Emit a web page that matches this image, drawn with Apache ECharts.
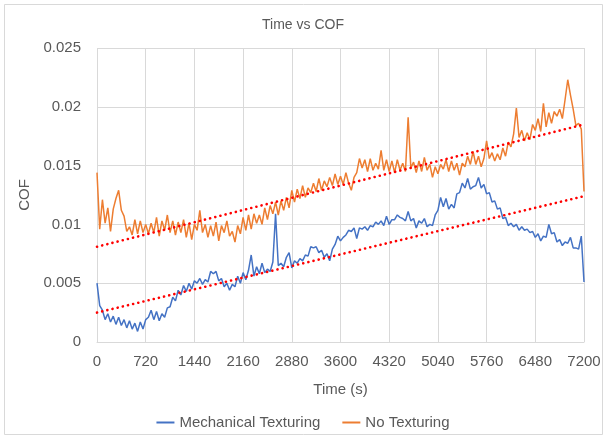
<!DOCTYPE html>
<html>
<head>
<meta charset="utf-8">
<script src="https://cdn.jsdelivr.net/npm/echarts@6/dist/echarts.min.js"></script>
<style>
  html, body { margin: 0; padding: 0; background: #fff; }
  #chart { width: 606px; height: 438px; }
</style>
</head>
<body>
<div id="chart"></div>
<script>
// readings taken every 40 s, 0 .. 7200 s
const sampleStep = 40;
const xTicks = [0, 720, 1440, 2160, 2880, 3600, 4320, 5040, 5760, 6480, 7200];
const yTicks = [0, 0.005, 0.01, 0.015, 0.02, 0.025];

// Mechanical Texturing
const mechCOF = [
  0.0050, 0.0031, 0.0027, 0.0019, 0.0024, 0.0017, 0.0022, 0.0015, 0.0021, 0.0014,
  0.0019, 0.0012, 0.0018, 0.0011, 0.0016, 0.0009, 0.0017, 0.0011, 0.0019, 0.0021,
  0.0027, 0.0019, 0.0026, 0.0018, 0.0024, 0.0021, 0.0029, 0.0030, 0.0038, 0.0035,
  0.0044, 0.0040, 0.0048, 0.0043, 0.0050, 0.0045, 0.0052, 0.0050, 0.0054, 0.0049,
  0.0053, 0.0051, 0.0060, 0.0058, 0.0060, 0.0052, 0.0054, 0.0047, 0.0050, 0.0044,
  0.0049, 0.0047, 0.0056, 0.0050, 0.0059, 0.0053, 0.0061, 0.0074, 0.0056, 0.0064,
  0.0058, 0.0067, 0.0059, 0.0062, 0.0060, 0.0068, 0.0109, 0.0065, 0.0067, 0.0064,
  0.0072, 0.0076, 0.0063, 0.0069, 0.0067, 0.0071, 0.0069, 0.0074, 0.0073, 0.0081,
  0.0080, 0.0081, 0.0076, 0.0078, 0.0072, 0.0075, 0.0069, 0.0079, 0.0083, 0.0090,
  0.0086, 0.0089, 0.0091, 0.0095, 0.0094, 0.0097, 0.0088, 0.0097, 0.0096, 0.0098,
  0.0095, 0.0099, 0.0098, 0.0102, 0.0100, 0.0103, 0.0099, 0.0107, 0.0100, 0.0104,
  0.0104, 0.0108, 0.0106, 0.0105, 0.0103, 0.0111, 0.0103, 0.0105, 0.0097, 0.0103,
  0.0101, 0.0105, 0.0098, 0.0100, 0.0099, 0.0108, 0.0112, 0.0123, 0.0115, 0.0122,
  0.0113, 0.0117, 0.0114, 0.0126, 0.0127, 0.0135, 0.0131, 0.0139, 0.0130, 0.0132,
  0.0133, 0.0140, 0.0131, 0.0134, 0.0126, 0.0127, 0.0119, 0.0120, 0.0113, 0.0114,
  0.0105, 0.0106, 0.0099, 0.0101, 0.0098, 0.0100, 0.0095, 0.0098, 0.0095, 0.0096,
  0.0093, 0.0094, 0.0089, 0.0092, 0.0086, 0.0090, 0.0089, 0.0100, 0.0092, 0.0093,
  0.0085, 0.0087, 0.0082, 0.0085, 0.0084, 0.0089, 0.0080, 0.0080, 0.0079, 0.0090,
  0.0051
];

// No Texturing
const plainCOF = [
  0.0144, 0.0096, 0.0121, 0.0101, 0.0114, 0.0094, 0.0113, 0.0122, 0.0129, 0.0112,
  0.0107, 0.0094, 0.0098, 0.0091, 0.0104, 0.0092, 0.0103, 0.0093, 0.0100, 0.0092,
  0.0101, 0.0093, 0.0106, 0.0090, 0.0103, 0.0095, 0.0108, 0.0093, 0.0103, 0.0091,
  0.0102, 0.0093, 0.0104, 0.0089, 0.0101, 0.0087, 0.0100, 0.0095, 0.0112, 0.0093,
  0.0100, 0.0089, 0.0099, 0.0090, 0.0102, 0.0086, 0.0099, 0.0093, 0.0103, 0.0090,
  0.0094, 0.0085, 0.0099, 0.0092, 0.0106, 0.0095, 0.0108, 0.0096, 0.0109, 0.0101,
  0.0108, 0.0100, 0.0114, 0.0104, 0.0116, 0.0109, 0.0119, 0.0108, 0.0120, 0.0112,
  0.0123, 0.0114, 0.0129, 0.0119, 0.0130, 0.0122, 0.0133, 0.0123, 0.0131, 0.0127,
  0.0135, 0.0128, 0.0139, 0.0129, 0.0137, 0.0132, 0.0140, 0.0133, 0.0143, 0.0134,
  0.0141, 0.0134, 0.0144, 0.0135, 0.0129, 0.0140, 0.0144, 0.0156, 0.0148, 0.0155,
  0.0145, 0.0156, 0.0146, 0.0152, 0.0147, 0.0163, 0.0146, 0.0155, 0.0145, 0.0154,
  0.0144, 0.0155, 0.0146, 0.0152, 0.0145, 0.0191, 0.0148, 0.0153, 0.0144, 0.0154,
  0.0145, 0.0157, 0.0146, 0.0151, 0.0140, 0.0149, 0.0143, 0.0151, 0.0147, 0.0155,
  0.0145, 0.0154, 0.0146, 0.0152, 0.0142, 0.0152, 0.0149, 0.0158, 0.0151, 0.0162,
  0.0151, 0.0158, 0.0149, 0.0156, 0.0171, 0.0156, 0.0161, 0.0154, 0.0160, 0.0155,
  0.0165, 0.0158, 0.0170, 0.0166, 0.0177, 0.0199, 0.0174, 0.0180, 0.0171, 0.0178,
  0.0172, 0.0185, 0.0180, 0.0190, 0.0179, 0.0203, 0.0183, 0.0195, 0.0186, 0.0196,
  0.0192, 0.0198, 0.0190, 0.0206, 0.0223, 0.0210, 0.0198, 0.0184, 0.0186, 0.0181,
  0.0128
];

// linear trendlines, value at 0 s and at 7200 s
const mechTrend = [0.0025, 0.0124];
const plainTrend = [0.0081, 0.0185];

const seriesNames = ['Mechanical Texturing', 'No Texturing'];
const textColor = '#595959';
const gridColor = '#D9D9D9';
const fontFamily = '"Liberation Sans", Arial, sans-serif';

const toPairs = (vals) => vals.map((v, i) => [i * sampleStep, v]);
const trendPairs = (ends) => [[xTicks[0], ends[0]], [xTicks[xTicks.length - 1], ends[1]]];

const chart = echarts.init(document.getElementById('chart'));

const trendStyle = {
  color: '#FF0000',
  width: 2.6,
  type: [0.1, 5.2],
  cap: 'round'
};

chart.setOption({
  backgroundColor: '#fff',
  animation: false,
  textStyle: { fontFamily: fontFamily },
  title: {
    text: 'Time vs COF',
    left: 'center',
    top: 13,
    textStyle: { color: textColor, fontSize: 14, fontWeight: 'normal', fontFamily: fontFamily }
  },
  graphic: [{
    type: 'rect',
    shape: { x: 4.5, y: 4.5, width: 598, height: 430 },
    style: { fill: 'none', stroke: gridColor, lineWidth: 1 },
    silent: true
  }],
  legend: {
    data: seriesNames,
    bottom: 3,
    left: 'center',
    icon: 'rect',
    itemWidth: 18,
    itemHeight: 2,
    itemGap: 22,
    textStyle: { color: textColor, fontSize: 15, fontFamily: fontFamily }
  },
  grid: { left: 97, right: 22, top: 48, bottom: 96 },
  xAxis: {
    type: 'value',
    min: xTicks[0],
    max: xTicks[xTicks.length - 1],
    interval: xTicks[1] - xTicks[0],
    name: 'Time (s)',
    nameLocation: 'middle',
    nameGap: 40,
    nameTextStyle: { color: textColor, fontSize: 15, fontFamily: fontFamily },
    axisLine: { lineStyle: { color: gridColor } },
    axisTick: { show: false },
    axisLabel: {
      color: textColor, fontSize: 15, margin: 12, fontFamily: fontFamily,
      formatter: (v) => String(v)
    },
    splitLine: { show: true, lineStyle: { color: gridColor } }
  },
  yAxis: {
    type: 'value',
    min: yTicks[0],
    max: yTicks[yTicks.length - 1],
    interval: yTicks[1] - yTicks[0],
    name: 'COF',
    nameLocation: 'middle',
    nameGap: 58,
    nameRotate: 90,
    nameTextStyle: { color: textColor, fontSize: 15, fontFamily: fontFamily },
    axisLine: { show: false },
    axisTick: { show: false },
    axisLabel: {
      color: textColor, fontSize: 15, margin: 16, fontFamily: fontFamily,
      formatter: (v) => String(parseFloat(v.toFixed(3)))
    },
    splitLine: { show: true, lineStyle: { color: gridColor } }
  },
  series: [
    {
      name: seriesNames[0],
      type: 'line',
      data: toPairs(mechCOF),
      showSymbol: false,
      color: '#4472C4',
      lineStyle: { width: 1.5 },
      z: 2
    },
    {
      name: seriesNames[1],
      type: 'line',
      data: toPairs(plainCOF),
      showSymbol: false,
      color: '#ED7D31',
      lineStyle: { width: 1.5 },
      z: 2
    },
    {
      name: 'trend-mech',
      type: 'line',
      data: trendPairs(mechTrend),
      showSymbol: false,
      lineStyle: trendStyle,
      z: 3
    },
    {
      name: 'trend-plain',
      type: 'line',
      data: trendPairs(plainTrend),
      showSymbol: false,
      lineStyle: trendStyle,
      z: 3
    }
  ]
});
</script>
</body>
</html>
